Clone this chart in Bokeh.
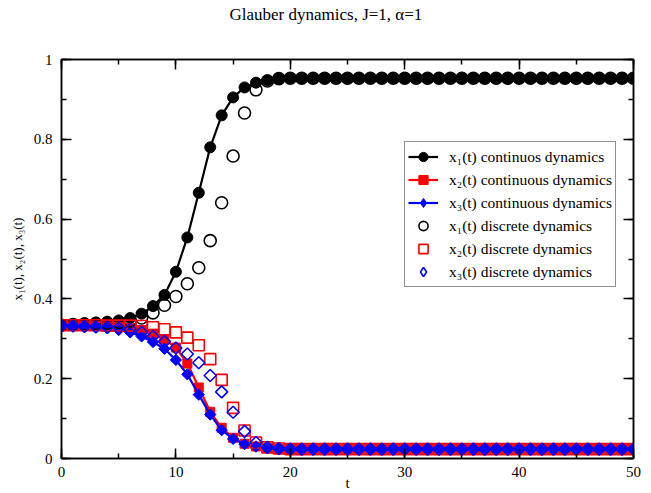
import numpy as np
from bokeh.plotting import figure
from bokeh.models import (Range1d, LinearAxis, SingleIntervalTicker, NumeralTickFormatter,
                          Legend, LegendItem, Title, CustomLabelingPolicy)
from bokeh.embed import file_html
from bokeh.resources import INLINE

# ---------------- data ----------------
t = list(range(0, 51))

x1_cont = [0.334, 0.337, 0.339, 0.341, 0.343, 0.346, 0.352, 0.363, 0.382, 0.410,
           0.468, 0.554, 0.666, 0.780, 0.860, 0.905, 0.930, 0.942, 0.948, 0.951,
           0.953, 0.953, 0.953, 0.953, 0.953, 0.953, 0.953, 0.953, 0.953, 0.953,
           0.953, 0.953, 0.953, 0.953, 0.953, 0.953, 0.953, 0.953, 0.953, 0.953,
           0.953, 0.953, 0.953, 0.953, 0.953, 0.953, 0.953, 0.953, 0.953, 0.953,
           0.953]
x2_cont = [0.333, 0.333, 0.333, 0.332, 0.331, 0.330, 0.327, 0.322, 0.313, 0.298,
           0.278, 0.238, 0.178, 0.117, 0.077, 0.052, 0.037, 0.030, 0.026, 0.024,
           0.0235, 0.0235, 0.0235, 0.0235, 0.0235, 0.0235, 0.0235, 0.0235, 0.0235, 0.0235,
           0.0235, 0.0235, 0.0235, 0.0235, 0.0235, 0.0235, 0.0235, 0.0235, 0.0235, 0.0235,
           0.0235, 0.0235, 0.0235, 0.0235, 0.0235, 0.0235, 0.0235, 0.0235, 0.0235, 0.0235,
           0.0235]
x3_cont = [0.333, 0.332, 0.331, 0.329, 0.326, 0.322, 0.316, 0.306, 0.292, 0.275,
           0.247, 0.211, 0.160, 0.110, 0.071, 0.049, 0.036, 0.030, 0.026, 0.024,
           0.0235, 0.0235, 0.0235, 0.0235, 0.0235, 0.0235, 0.0235, 0.0235, 0.0235, 0.0235,
           0.0235, 0.0235, 0.0235, 0.0235, 0.0235, 0.0235, 0.0235, 0.0235, 0.0235, 0.0235,
           0.0235, 0.0235, 0.0235, 0.0235, 0.0235, 0.0235, 0.0235, 0.0235, 0.0235, 0.0235,
           0.0235]
x1_disc = [0.334, 0.336, 0.337, 0.338, 0.339, 0.341, 0.345, 0.352, 0.365, 0.384,
           0.406, 0.438, 0.478, 0.546, 0.641, 0.758, 0.866, 0.924, 0.946, 0.952,
           0.953, 0.953, 0.953, 0.953, 0.953, 0.953, 0.953, 0.953, 0.953, 0.953,
           0.953, 0.953, 0.953, 0.953, 0.953, 0.953, 0.953, 0.953, 0.953, 0.953,
           0.953, 0.953, 0.953, 0.953, 0.953, 0.953, 0.953, 0.953, 0.953, 0.953,
           0.953]
x2_disc = [0.334, 0.334, 0.334, 0.334, 0.333, 0.333, 0.333, 0.332, 0.329, 0.324,
           0.316, 0.303, 0.284, 0.249, 0.197, 0.127, 0.070, 0.040, 0.028, 0.025,
           0.0235, 0.0235, 0.0235, 0.0235, 0.0235, 0.0235, 0.0235, 0.0235, 0.0235, 0.0235,
           0.0235, 0.0235, 0.0235, 0.0235, 0.0235, 0.0235, 0.0235, 0.0235, 0.0235, 0.0235,
           0.0235, 0.0235, 0.0235, 0.0235, 0.0235, 0.0235, 0.0235, 0.0235, 0.0235, 0.0235,
           0.0235]
x3_disc = [0.333, 0.332, 0.331, 0.330, 0.329, 0.327, 0.324, 0.316, 0.306, 0.293,
           0.277, 0.262, 0.240, 0.208, 0.167, 0.116, 0.068, 0.040, 0.028, 0.025,
           0.0235, 0.0235, 0.0235, 0.0235, 0.0235, 0.0235, 0.0235, 0.0235, 0.0235, 0.0235,
           0.0235, 0.0235, 0.0235, 0.0235, 0.0235, 0.0235, 0.0235, 0.0235, 0.0235, 0.0235,
           0.0235, 0.0235, 0.0235, 0.0235, 0.0235, 0.0235, 0.0235, 0.0235, 0.0235, 0.0235,
           0.0235]

labels = ["x\u2081(t) continuos dynamics",
          "x\u2082(t) continuous dynamics",
          "x\u2083(t) continuous dynamics",
          "x\u2081(t) discrete dynamics",
          "x\u2082(t) discrete dynamics",
          "x\u2083(t) discrete dynamics"]

title_text = "Glauber dynamics, J=1, \u03b1=1"
xlabel = "t"
ylabel = "x\u2081(t), x\u2082(t), x\u2083(t)"

SERIF = "Liberation Serif"

# ---------------- figure ----------------
p = figure(width=651, height=493, output_backend="svg", toolbar_location=None,
           x_range=Range1d(0, 50), y_range=Range1d(0, 1),
           min_border_left=61, min_border_right=18, min_border_top=59, min_border_bottom=35,
           x_axis_location=None, y_axis_location=None)
p.grid.visible = False
p.outline_line_color = "black"
p.outline_line_width = 1.5
p.background_fill_color = "white"
p.border_fill_color = "white"

p.title = Title(text=title_text, align="left", offset=168, text_font=SERIF,
                text_font_size="17px", text_font_style="normal", text_color="black",
                vertical_align="top", standoff=6)

hide_labels = CustomLabelingPolicy(code="""
for (let i = 0; i < indices.size; i++) {
  if (typeof indices.unset === "function") { indices.unset(i) } else { indices.set(i, false) }
}
return indices
""")


def make_axis(kind, loc, labelled, spacer=0):
    if kind == "x":
        tk = SingleIntervalTicker(interval=10, num_minor_ticks=2)
    else:
        tk = SingleIntervalTicker(interval=0.2, num_minor_ticks=2)
    ax = LinearAxis(ticker=tk)
    ax.axis_line_width = 1.5
    ax.major_tick_in = 10
    ax.major_tick_out = 0
    ax.minor_tick_in = 5
    ax.minor_tick_out = 0
    ax.major_tick_line_width = 1.5
    ax.minor_tick_line_width = 1.5
    if kind == "y":
        ax.formatter = NumeralTickFormatter(format="0.[0]")
    if labelled:
        ax.major_label_text_font = SERIF
        ax.major_label_text_font_size = "15px"
        ax.major_label_text_color = "black"
        ax.axis_label_text_font = SERIF
        ax.axis_label_text_font_style = "normal"
        ax.axis_label_text_color = "black"
        if kind == "x":
            ax.major_label_standoff = 8
            ax.axis_label = xlabel
            ax.axis_label_text_font_size = "15px"
            ax.axis_label_standoff = -5
        else:
            ax.major_label_standoff = 9
            ax.axis_label = ylabel
            ax.axis_label_text_font_size = "13px"
            ax.axis_label_standoff = 6
    else:
        ax.major_label_policy = hide_labels
        ax.major_label_text_font_size = "1px"
        ax.major_label_standoff = spacer
    p.add_layout(ax, loc)
    return ax


make_axis("x", "below", True)
make_axis("y", "left", True)
make_axis("x", "above", False, spacer=27)
make_axis("y", "right", False)

# ---------------- glyphs ----------------
rot = np.pi / 4

l1 = p.line(t, x1_cont, line_color="black", line_width=2.2)
s1 = p.scatter(t, x1_cont, marker="circle", size=11, fill_color="black", line_color="black")
l2 = p.line(t, x2_cont, line_color="red", line_width=2.2)
s2 = p.scatter(t, x2_cont, marker="square", size=9, fill_color="red", line_color="red")
l3 = p.line(t, x3_cont, line_color="blue", line_width=2.2)
s3 = p.scatter(t, x3_cont, marker="square", size=8, angle=rot, fill_color="blue", line_color="blue")

d1 = p.scatter(t, x1_disc, marker="circle", size=12, fill_alpha=0, line_color="black", line_width=1.6)
d2 = p.scatter(t, x2_disc, marker="square", size=11, fill_alpha=0, line_color="red", line_width=1.6)
d3 = p.scatter(t, x3_disc, marker="square", size=8.5, angle=rot, fill_alpha=0, line_color="blue", line_width=1.6)

# legend proxies: diamond markers of zero size on the same data
# (the legend draws markers unrotated and at its own size)
k3 = p.scatter(t, x3_cont, marker="diamond", size=0, fill_color="blue", line_color="blue")
k6 = p.scatter(t, x3_disc, marker="diamond", size=0, fill_alpha=0, line_color="blue", line_width=1.6)

legend = Legend(items=[
    LegendItem(label=labels[0], renderers=[l1, s1]),
    LegendItem(label=labels[1], renderers=[l2, s2]),
    LegendItem(label=labels[2], renderers=[l3, k3]),
    LegendItem(label=labels[3], renderers=[d1]),
    LegendItem(label=labels[4], renderers=[d2]),
    LegendItem(label=labels[5], renderers=[k6]),
], location=(343, 171))
legend.label_text_font = SERIF
legend.label_text_font_size = "15.5px"
legend.label_text_color = "black"
legend.glyph_width = 30
legend.glyph_height = 23
legend.label_height = 23
legend.spacing = 0
legend.padding = 3
legend.margin = 0
legend.label_standoff = 11
legend.border_line_color = "#222222"
legend.border_line_width = 1.5
legend.background_fill_color = "white"
legend.background_fill_alpha = 1.0
p.add_layout(legend, "center")

open("out.html", "w").write(file_html(p, INLINE))
